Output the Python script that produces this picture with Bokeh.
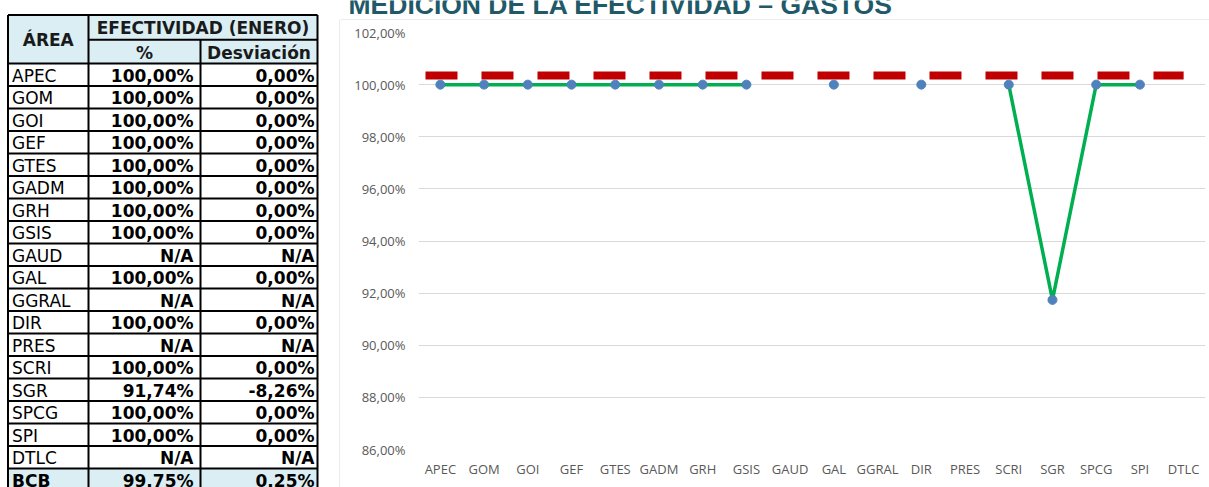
import math
from bokeh.plotting import figure
from bokeh.layouts import row, column
from bokeh.models import Range1d, FactorRange, ColumnDataSource
from bokeh.transform import dodge
from bokeh.core.properties import value
from bokeh.embed import file_html
from bokeh.resources import INLINE

# ---------------- data ----------------
areas = ["APEC", "GOM", "GOI", "GEF", "GTES", "GADM", "GRH", "GSIS", "GAUD",
         "GAL", "GGRAL", "DIR", "PRES", "SCRI", "SGR", "SPCG", "SPI", "DTLC"]
efectividad = [100.0, 100.0, 100.0, 100.0, 100.0, 100.0, 100.0, 100.0, None,
               100.0, None, 100.0, None, 100.0, 91.74, 100.0, 100.0, None]
desviacion = [0.0, 0.0, 0.0, 0.0, 0.0, 0.0, 0.0, 0.0, None,
              0.0, None, 0.0, None, 0.0, -8.26, 0.0, 0.0, None]
total_label = "BCB"
total_efectividad = 99.75
total_desviacion = 0.25
meta = 100.35
y_ticks = [86, 88, 90, 92, 94, 96, 98, 100, 102]

title_text = "MEDICIÓN DE LA EFECTIVIDAD – GASTOS"
hdr_area = "ÁREA"
hdr_group = "EFECTIVIDAD (ENERO)"
hdr_pct = "%"
hdr_desv = "Desviación"


def fmt(v):
    if v is None:
        return "N/A"
    return f"{v:.2f}".replace(".", ",") + "%"


H = 487
TW = 340          # table panel width
RW = 1209 - TW    # right panel width
TH = 20           # title strip height
BORDER = "#D9D9D9"


def blank(w, h):
    f = figure(width=w, height=h, x_range=Range1d(0, w), y_range=Range1d(h, 0),
               output_backend="svg", toolbar_location=None, min_border=0,
               x_axis_location=None, y_axis_location=None)
    f.grid.visible = False
    f.outline_line_color = None
    f.frame_align = False
    return f


# ---------------- table ----------------
t = blank(TW, H)

X0, X1, X2, X3 = 7.5, 88.0, 200.0, 317.0
Y0, YH, Y1 = 14.5, 39.3, 63.0
RH = 22.5
n = len(areas)
ybot = Y1 + (n + 1) * RH
header_bg = "#DAEEF3"

t.quad(left=[X0], right=[X3], top=[Y0], bottom=[Y1], fill_color=header_bg, line_color=None)
t.quad(left=[X0], right=[X3], top=[Y1 + n * RH], bottom=[ybot], fill_color=header_bg, line_color=None)

hx0, hx1, hy = [], [], []
for yy in [Y0, Y1] + [Y1 + k * RH for k in range(1, n + 2)]:
    hx0.append(X0); hx1.append(X3); hy.append(yy)
t.segment(x0=hx0, y0=hy, x1=hx1, y1=hy, line_color="black", line_width=2)
t.segment(x0=[X1], y0=[YH], x1=[X3], y1=[YH], line_color="black", line_width=2)
t.segment(x0=[X0, X1, X3], y0=[Y0, Y0, Y0], x1=[X0, X1, X3], y1=[ybot] * 3,
          line_color="black", line_width=2)
t.segment(x0=[X2], y0=[YH], x1=[X2], y1=[ybot], line_color="black", line_width=2)

# chart area border (left edge and top-left corner)
t.segment(x0=[339.5, 339.0], y0=[19.5, 19.5], x1=[339.5, TW], y1=[H, 19.5],
          line_color=BORDER, line_width=1)

FONT = value("DejaVu Sans")
t.text(x=[(X0 + X1) / 2], y=[(Y0 + Y1) / 2 + 1], text=[hdr_area], text_font=FONT,
       text_font_size="17px", text_font_style="bold", text_align="center",
       text_baseline="middle", text_color="#1a1a1a")
t.text(x=[(X1 + X3) / 2, (X1 + X2) / 2, (X2 + X3) / 2],
       y=[(Y0 + YH) / 2 + 1, (YH + Y1) / 2 + 1, (YH + Y1) / 2 + 1],
       text=[hdr_group, hdr_pct, hdr_desv], text_font=FONT,
       text_font_size="17px", text_font_style="bold", text_align="center",
       text_baseline="middle", text_color="#1a1a1a")

labels = areas + [total_label]
pcts = [fmt(v) for v in efectividad] + [fmt(total_efectividad)]
desvs = [fmt(v) for v in desviacion] + [fmt(total_desviacion)]
ycent = [Y1 + (i + 0.5) * RH + 1 for i in range(n + 1)]
t.text(x=[X0 + 4] * n, y=ycent[:n], text=labels[:n], text_font=FONT,
       text_font_size="17px", text_font_style="normal", text_align="left",
       text_baseline="middle", text_color="black")
t.text(x=[X0 + 4], y=ycent[n:], text=labels[n:], text_font=FONT,
       text_font_size="17px", text_font_style="bold", text_align="left",
       text_baseline="middle", text_color="black")
t.text(x=[X2 - 7] * (n + 1), y=ycent, text=pcts, text_font=FONT,
       text_font_size="17px", text_font_style="bold", text_align="right",
       text_baseline="middle", text_color="black")
t.text(x=[X3 - 3] * (n + 1), y=ycent, text=desvs, text_font=FONT,
       text_font_size="17px", text_font_style="bold", text_align="right",
       text_baseline="middle", text_color="black")

# ---------------- title strip ----------------
ts = blank(RW, TH)
ts.segment(x0=[0], y0=[19.5], x1=[RW], y1=[19.5], line_color=BORDER, line_width=1)
ts.text(x=[8], y=[4], text=[title_text], text_font=value("Liberation Sans"),
        text_font_size="26.5px", text_font_style="bold", text_color="#215968",
        text_baseline="alphabetic", text_align="left")

# ---------------- chart ----------------
CH = H - TH
c = figure(width=RW, height=CH, x_range=FactorRange(factors=areas, range_padding=0),
           y_range=Range1d(86, 102), output_backend="svg", toolbar_location=None,
           min_border_left=78, min_border_right=4, min_border_top=12, min_border_bottom=38)
c.frame_align = False
c.outline_line_color = None
c.xgrid.visible = False
c.ygrid.grid_line_color = BORDER
c.ygrid.grid_line_width = 1
c.yaxis.ticker = y_ticks
c.yaxis.major_label_overrides = {t_: fmt(float(t_)) for t_ in y_ticks}
for ax in (c.xaxis, c.yaxis):
    ax.axis_line_color = None
    ax.major_tick_line_color = None
    ax.minor_tick_line_color = None
    ax.major_tick_out = 0
    ax.major_tick_in = 0
    ax.major_label_text_font = "Open Sans"
    ax.major_label_text_font_size = "13px"
    ax.major_label_text_color = "#595959"
c.yaxis.major_label_standoff = 13
c.xaxis.major_label_standoff = 10

meta_src = ColumnDataSource(dict(start=[areas[0]], end=[areas[-1]], meta=[meta]))
c.segment(x0=dodge("start", -0.34, range=c.x_range), y0="meta", x1="end", y1="meta",
          source=meta_src, line_color="#C00000", line_width=8, line_dash="32 24")

src = ColumnDataSource(dict(area=areas,
                            ef=[math.nan if v is None else v for v in efectividad]))
c.line("area", "ef", source=src, line_color="#00B050", line_width=3.5)
c.scatter("area", "ef", source=src, size=9, fill_color="#4F81BD", line_color="#4F81BD")

layout = row(t, column(ts, c))
open("out.html", "w").write(file_html(layout, INLINE))
